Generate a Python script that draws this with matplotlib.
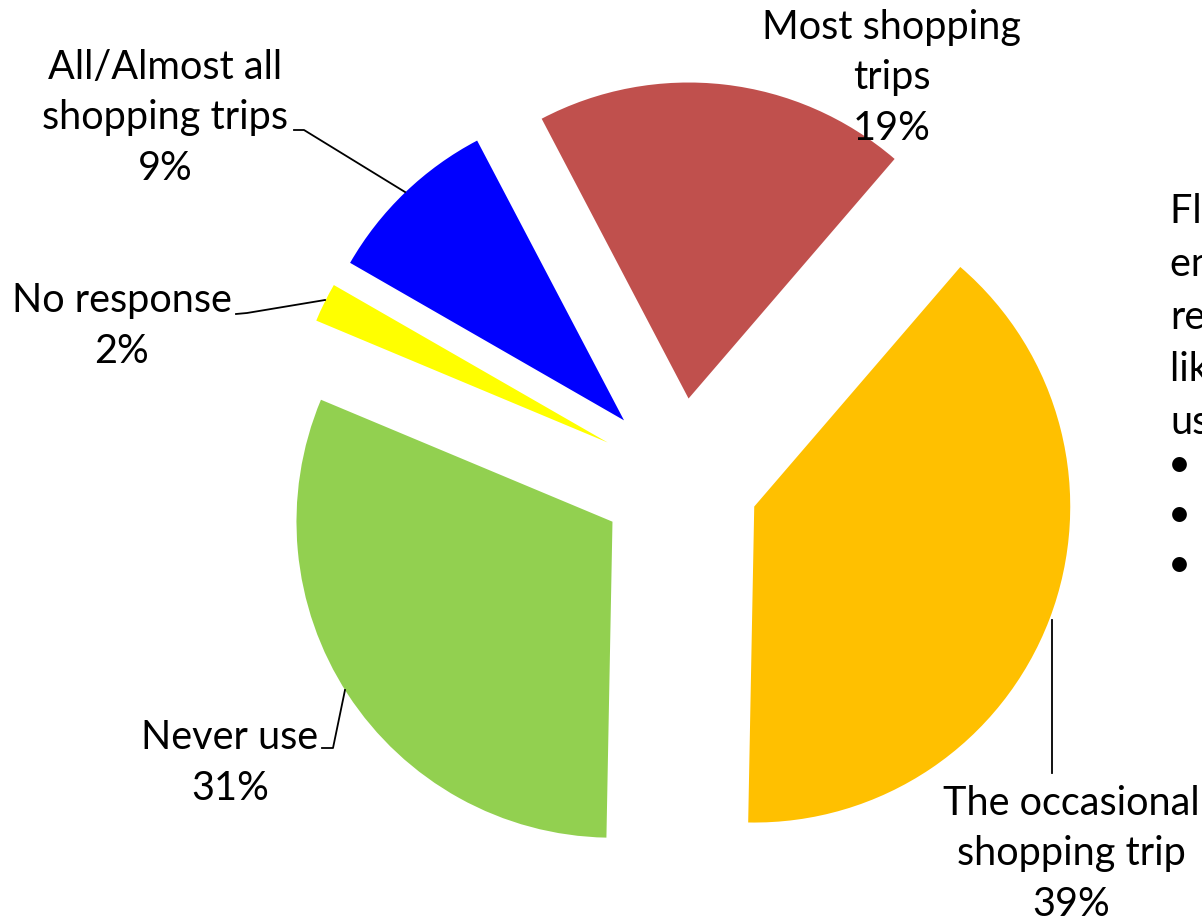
import matplotlib
matplotlib.use("Agg")
import matplotlib.pyplot as plt

# survey answers, clockwise from the top
categories = ["Most shopping\ntrips", "The occasional\nshopping trip", "Never use",
              "No response", "All/Almost all\nshopping trips"]
shares = [19, 39, 31, 2, 9]
colors = ["#C0504D", "#FFC000", "#92D050", "#FFFF00", "#0000FF"]

side_lines = ["Flyers were", "encouraged to", "respondents", "likely to", "use"]
bullet_lines = ["\u2022", "\u2022", "\u2022"]

W, H = 1202, 923
FONT = "Lato"
FS = 28.5

fig = plt.figure(figsize=(W / 100, H / 100), dpi=100)
ax = fig.add_axes([0, 0, 1, 1])


# pixel-style coordinates: y measured from the top
def py(y):
    return H - y


center = (679.5, py(478))
radius = 316
ax.pie(shares, colors=colors, startangle=117.7, counterclock=False,
       explode=[80] * len(shares), center=center, radius=radius,
       wedgeprops=dict(linewidth=0), frame=True)
ax.set_xlim(0, W)
ax.set_ylim(0, H)
ax.set_aspect("equal")
ax.axis("off")

# label positions (text centre) and leader lines
label_pos = [(892, 78), (1071, 854), (230, 763), (122, 326), (165, 118)]
leaders = [
    None,
    [(1052, 620), (1052, 773)],
    [(322, 748), (333, 748), (345, 690)],
    [(236, 314), (247, 313), (325, 300)],
    [(294, 130), (304, 130), (405, 192)],
]

for cat, val, (lx, ly), lead in zip(categories, shares, label_pos, leaders):
    ax.text(lx, py(ly), f"{cat}\n{val}%", ha="center", va="center",
            fontsize=FS, family=FONT, linespacing=1.46, color="black")
    if lead:
        xs = [p[0] for p in lead]
        ys = [py(p[1]) for p in lead]
        ax.plot(xs, ys, color="black", linewidth=1.3)

# side note running off the right edge
for i, line in enumerate(side_lines):
    ax.text(1170, py(212 + i * 52.5), line, ha="left", va="center",
            fontsize=FS, family=FONT, color="black")
for i, b in enumerate(bullet_lines):
    ax.text(1168, py(465 + i * 50), b, ha="left", va="center",
            fontsize=FS, family=FONT, color="black")

fig.savefig("out.png", dpi=100)
